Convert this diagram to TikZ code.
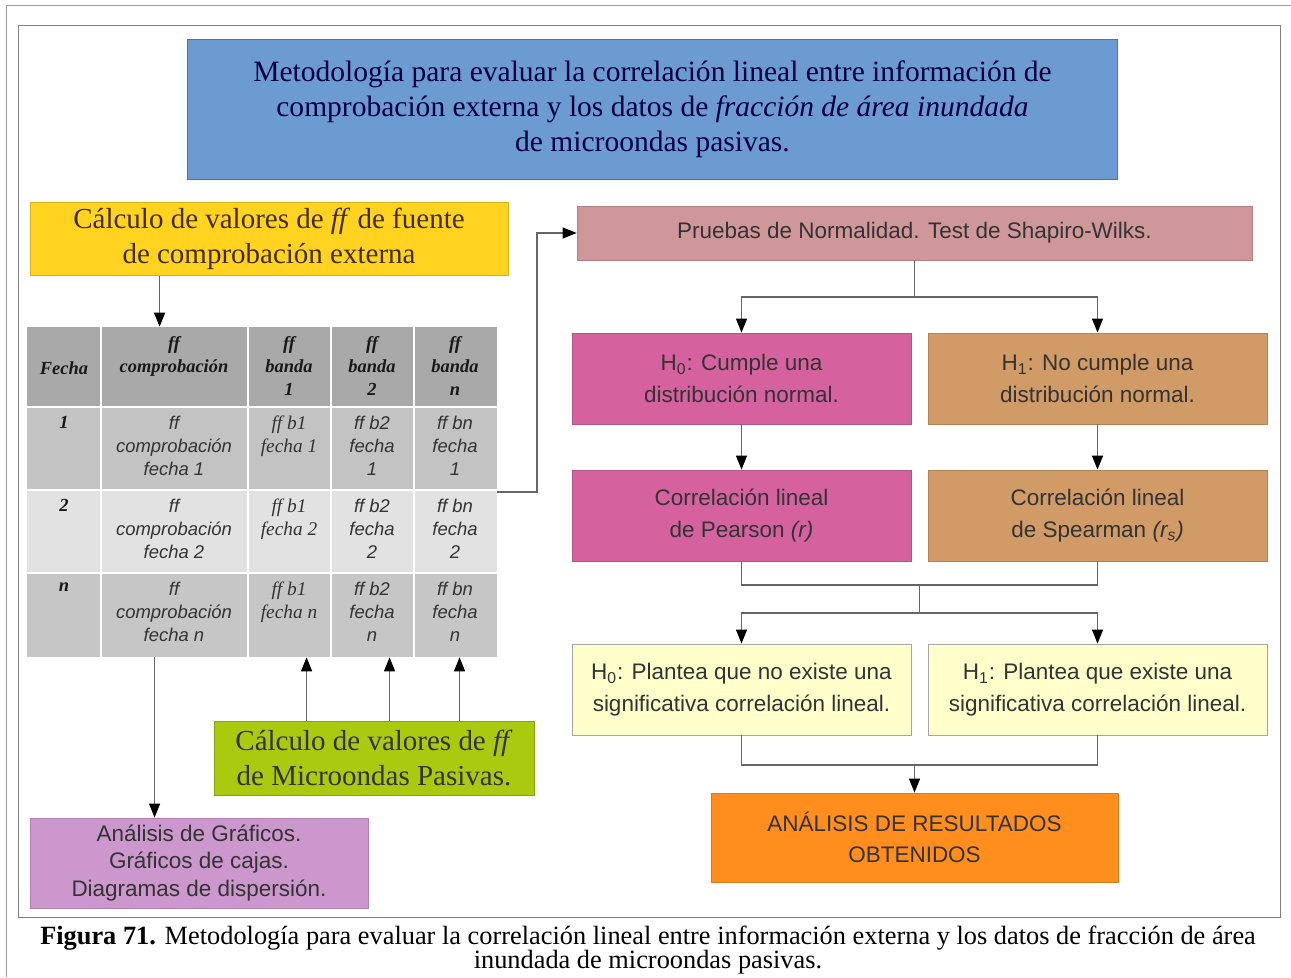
\documentclass[tikz,border=0pt]{standalone}
\usepackage{fontspec}
\setmainfont{Liberation Serif}
\setsansfont{Liberation Sans}
\usepackage{tikz}
\usetikzlibrary{arrows.meta}

\definecolor{azultit}{HTML}{6C9BD2}
\definecolor{amarillo}{HTML}{FFD320}
\definecolor{rosaprueba}{HTML}{D0979B}
\definecolor{magenta}{HTML}{D5629F}
\definecolor{canela}{HTML}{D09B67}
\definecolor{crema}{HTML}{FFFFCC}
\definecolor{naranja}{HTML}{FF8E1E}
\definecolor{orquidea}{HTML}{CB97CC}
\definecolor{lima}{HTML}{A9CA0E}
\definecolor{gris1}{HTML}{A9A9A9}
\definecolor{gris2}{HTML}{C3C3C3}
\definecolor{gris3}{HTML}{E2E2E2}
\definecolor{gris4}{HTML}{C6C6C6}

\begin{document}
\begin{tikzpicture}[x=0.02cm,y=-0.02cm,>={Triangle[length=2.8mm,width=2.2mm,black]},
  caja/.style={rectangle,inner sep=2pt,align=center,line width=0.5pt},
  cajaserif/.style={caja,font=\fontsize{16.8}{19.8}\selectfont},
  cajasans/.style={caja,font=\sffamily\fontsize{12.8}{18}\selectfont,text=black!80},
  linea/.style={draw=black!60,line width=0.7pt},
  flecha/.style={linea,->},
  cabecera/.style={inner sep=0pt,align=center,text=black!90,font=\bfseries\itshape\fontsize{10.5}{13}\selectfont},
  celda/.style={inner sep=0pt,anchor=north,align=center,text=black!80,font=\sffamily\itshape\fontsize{10.5}{13}\selectfont},
  celdaserif/.style={celda,font=\itshape\fontsize{11}{13}\selectfont},
  fila/.style={rectangle,inner sep=0pt,minimum width=9.4cm}]
\useasboundingbox (0,0) rectangle (1291,977);
\draw[black!40] (6,977) -- (6,5) -- (1291,5);
\draw[black!50] (18,25) rectangle (1280,917);

\node[cajaserif,fill=azultit,draw=azultit!75!black,text=blue!25!black,minimum width=18.62cm,minimum height=2.8cm] (titulo) at (652.5,109) {Metodología para evaluar la correlación lineal entre información de\\comprobación externa y los datos de \textit{fracción de área inundada}\\de microondas pasivas.};
\node[cajaserif,fill=amarillo,draw=amarillo!85!black,text=brown!35!black,font=\fontsize{16.5}{19.8}\selectfont,minimum width=9.56cm,minimum height=1.46cm] (fuente) at (269,239) {Cálculo de valores de \textit{ff} de fuente\\de comprobación externa};

\node[fila,fill=gris1,minimum height=1.6cm] (cab) at (262,367) {};
\node[fila,fill=gris2,minimum height=1.66cm] (fila1) at (262,448.5) {};
\node[fila,fill=gris3,minimum height=1.66cm] (fila2) at (262,531.5) {};
\node[fila,fill=gris4,minimum height=1.68cm] (filan) at (262,615) {};
\node[fila,minimum height=6.6cm] (tabla) at (262,492) {};
\draw[white,line width=1pt] (27,407) -- (497,407) (27,490) -- (497,490) (27,573) -- (497,573);
\draw[white,line width=1pt] (101,327) -- (101,657) (248,327) -- (248,657) (331,327) -- (331,657) (414,327) -- (414,657);

\node[cabecera] (hfecha) at (64,368) {Fecha};
\node[cabecera,anchor=north] (hcomp) at (174,336) {ff\\comprobación};
\node[cabecera,anchor=north] (hb1) at (289,336) {ff\\banda\\1};
\node[cabecera,anchor=north] (hb2) at (372,336) {ff\\banda\\2};
\node[cabecera,anchor=north] (hbn) at (455,336) {ff\\banda\\n};

\node[cabecera,anchor=north] (f1) at (64,416) {1};
\node[celda] (c1) at (174,416) {ff\\comprobación\\fecha 1};
\node[celdaserif] (b11) at (289,416) {ff b1\\fecha 1};
\node[celda] (b21) at (372,416) {ff b2\\fecha\\1};
\node[celda] (bn1) at (455,416) {ff bn\\fecha\\1};

\node[cabecera,anchor=north] (f2) at (64,499) {2};
\node[celda] (c2) at (174,499) {ff\\comprobación\\fecha 2};
\node[celdaserif] (b12) at (289,499) {ff b1\\fecha 2};
\node[celda] (b22) at (372,499) {ff b2\\fecha\\2};
\node[celda] (bn2) at (455,499) {ff bn\\fecha\\2};

\node[cabecera,anchor=north] (fn) at (64,582) {n};
\node[celda] (cn) at (174,582) {ff\\comprobación\\fecha n};
\node[celdaserif] (b1n) at (289,582) {ff b1\\fecha n};
\node[celda] (b2n) at (372,582) {ff b2\\fecha\\n};
\node[celda] (bnn) at (455,582) {ff bn\\fecha\\n};

\node[cajaserif,fill=lima,draw=lima!80!black,text=black!80,font=\fontsize{16.5}{19.8}\selectfont,minimum width=6.4cm,minimum height=1.48cm] (micro) at (374,758) {Cálculo de valores de \textit{ff}\\de Microondas Pasivas.};
\node[cajasans,fill=orquidea,draw=orquidea!85!black,minimum width=6.76cm,minimum height=1.8cm,font=\sffamily\fontsize{12.8}{15.5}\selectfont] (graficos) at (199,863) {Análisis de Gráficos.\\Gráficos de cajas.\\Diagramas de dispersión.};

\node[cajasans,fill=rosaprueba,draw=rosaprueba!85!black,minimum width=13.5cm,minimum height=1.08cm] (pruebas) at (914.5,233) {Pruebas de Normalidad. Test de Shapiro-Wilks.};
\node[cajasans,fill=magenta,draw=magenta!85!black,minimum width=6.78cm,minimum height=1.82cm] (normal) at (741.5,378.5) {H\textsubscript{0}: Cumple una\\distribución normal.};
\node[cajasans,fill=canela,draw=canela!85!black,minimum width=6.78cm,minimum height=1.82cm] (nonormal) at (1097.5,378.5) {H\textsubscript{1}: No cumple una\\distribución normal.};
\node[cajasans,fill=magenta,draw=magenta!85!black,minimum width=6.78cm,minimum height=1.82cm] (pearson) at (741.5,515.5) {Correlación lineal\\de Pearson \textit{(r)}};
\node[cajasans,fill=canela,draw=canela!85!black,minimum width=6.78cm,minimum height=1.82cm] (spearman) at (1097.5,515.5) {Correlación lineal\\de Spearman \textit{(r\textsubscript{s})}};
\node[cajasans,fill=crema,draw=black!35,minimum width=6.78cm,minimum height=1.82cm] (hnula) at (741.5,689.5) {H\textsubscript{0}: Plantea que no existe una\\significativa correlación lineal.};
\node[cajasans,fill=crema,draw=black!35,minimum width=6.78cm,minimum height=1.82cm] (halt) at (1097.5,689.5) {H\textsubscript{1}: Plantea que existe una\\significativa correlación lineal.};
\node[cajasans,fill=naranja,draw=naranja!85!black,minimum width=8.14cm,minimum height=1.78cm] (resultados) at (914.5,837.5) {ANÁLISIS DE RESULTADOS\\OBTENIDOS};

\node[align=center,font=\fontsize{15}{13.8}\selectfont] (pie) at (648,950) {\textbf{Figura 71.} Metodología para evaluar la correlación lineal entre información externa y los datos de fracción de área\\inundada de microondas pasivas.};

\draw[flecha] ([xshift=2.6cm]fuente.south west) -- ([xshift=2.6cm]fuente.south west |- tabla.north);
\draw[flecha] (tabla.east) -| (537,233) -- (pruebas.west);
\draw[flecha] ([xshift=2.5cm]graficos.north west |- tabla.south) -- ([xshift=2.5cm]graficos.north west);
\draw[flecha] ([xshift=1.86cm]micro.north west) -- ([xshift=1.86cm]micro.north west |- tabla.south);
\draw[flecha] ([xshift=3.52cm]micro.north west) -- ([xshift=3.52cm]micro.north west |- tabla.south);
\draw[flecha] ([xshift=4.92cm]micro.north west) -- ([xshift=4.92cm]micro.north west |- tabla.south);

\draw[linea] (pruebas.south) -- (914.5,297);
\draw[flecha] (914.5,297) -| (normal.north);
\draw[flecha] (914.5,297) -| (nonormal.north);
\draw[flecha] (normal) -- (pearson);
\draw[flecha] (nonormal) -- (spearman);
\draw[linea] (pearson.south) |- (1097.5,585) -- (spearman.south);
\draw[linea] (919.5,585) -- (919.5,613);
\draw[flecha] (919.5,613) -| (hnula.north);
\draw[flecha] (919.5,613) -| (halt.north);
\draw[linea] (hnula.south) |- (1097.5,765) -- (halt.south);
\draw[flecha] (914.5,765) -- (resultados.north);
\end{tikzpicture}
\end{document}
